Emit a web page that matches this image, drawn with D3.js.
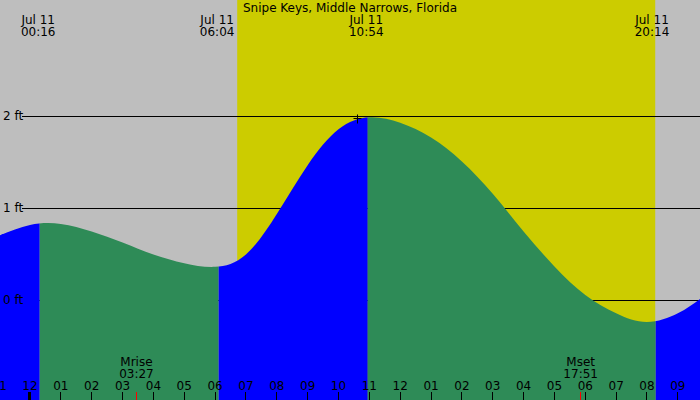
<!DOCTYPE html>
<html>
<head>
<meta charset="utf-8">
<script src="https://cdn.jsdelivr.net/npm/d3@7"></script>
<style>
  body { margin: 0; background: #fff; }
  text { font-family: "DejaVu Sans", sans-serif; font-size: 12px; fill: #000; }
</style>
</head>
<body>
<div id="chart"></div>
<script>
var svgWidth = 700;
var svgHeight = 400;

var title = "Snipe Keys, Middle Narrows, Florida";

// hourly tide heights (ft)
var tideTimes = ["2024-07-10 23:00", "2024-07-11 00:00", "2024-07-11 01:00", "2024-07-11 02:00",
  "2024-07-11 03:00", "2024-07-11 04:00", "2024-07-11 05:00", "2024-07-11 06:00",
  "2024-07-11 07:00", "2024-07-11 08:00", "2024-07-11 09:00", "2024-07-11 10:00",
  "2024-07-11 11:00", "2024-07-11 12:00", "2024-07-11 13:00", "2024-07-11 14:00",
  "2024-07-11 15:00", "2024-07-11 16:00", "2024-07-11 17:00", "2024-07-11 18:00",
  "2024-07-11 19:00", "2024-07-11 20:00", "2024-07-11 21:00", "2024-07-11 21:44"];
var tideHeights = [0.695, 0.81, 0.822, 0.74, 0.62, 0.49, 0.395, 0.355,
  0.49, 0.93, 1.46, 1.85, 1.98, 1.92, 1.76, 1.50,
  1.15, 0.74, 0.36, 0.05, -0.15, -0.245, -0.15, 0.01];

// high / low tides
var extremeTimes = ["2024-07-11 00:16", "2024-07-11 06:04", "2024-07-11 10:54", "2024-07-11 20:14"];
var extremeLabels = ["00:16", "06:04", "10:54", "20:14"];

var sunrise = "2024-07-11 06:43";
var sunset = "2024-07-11 20:16";

var moonEvents = [
  {name: "Mrise", time: "2024-07-11 03:27", label: "03:27"},
  {name: "Mset", time: "2024-07-11 17:51", label: "17:51"}
];

var levelTicks = [0, 1, 2];
var markTime = "2024-07-11 10:36";
var markHeight = 1.97;

var parse = d3.timeParse("%Y-%m-%d %H:%M");
var parseS = d3.timeParse("%Y-%m-%d %H:%M:%S");

var tide = tideTimes.map((t, i) => ({t: parse(t), h: tideHeights[i]}));

var x = d3.scaleTime()
  .domain([parseS("2024-07-10 23:01:40"), parseS("2024-07-11 21:43:05")])
  .range([0, svgWidth]);
var y = d3.scaleLinear().domain([0, 2]).range([299.5, 115.5]);

var svg = d3.select("#chart").append("svg")
  .attr("width", svgWidth)
  .attr("height", svgHeight);

// night / day background
svg.append("rect").attr("width", svgWidth).attr("height", svgHeight).attr("fill", "#bebebe");
svg.append("rect")
  .attr("x", x(parse(sunrise)))
  .attr("width", x(parse(sunset)) - x(parse(sunrise)))
  .attr("height", svgHeight)
  .attr("fill", "#cccc00");

// level lines go behind the water
svg.selectAll(".level").data(levelTicks).enter().append("line")
  .attr("x1", 22).attr("x2", svgWidth)
  .attr("y1", d => Math.round(y(d)) + 0.5).attr("y2", d => Math.round(y(d)) + 0.5)
  .attr("stroke", "#000");

// water area: blue rising, green falling
var area = d3.area()
  .x(d => x(d.t))
  .y0(svgHeight)
  .y1(d => y(d.h))
  .curve(d3.curveNatural);

svg.append("clipPath").attr("id", "water")
  .append("path").attr("d", area(tide));

var bounds = [x.domain()[0]].concat(extremeTimes.map(parse), [x.domain()[1]]);
var rising = true;
var waterGroup = svg.append("g").attr("clip-path", "url(#water)");
waterGroup.append("rect").attr("width", 3).attr("height", svgHeight).attr("fill", "#0000ff");
for (var i = 0; i < bounds.length - 1; i++) {
  waterGroup.append("rect")
    .attr("x", x(bounds[i]) + 1.5)
    .attr("width", x(bounds[i + 1]) - x(bounds[i]))
    .attr("height", svgHeight)
    .attr("fill", rising ? "#0000ff" : "#2e8b57");
  rising = !rising;
}

// level labels
svg.selectAll(".lvl").data(levelTicks).enter().append("text")
  .attr("x", 3)
  .attr("y", d => y(d) + 4)
  .text(d => d + " ft");

// marker
var mx = Math.round(x(parse(markTime))) + 0.5, my = Math.round(y(markHeight)) + 0.5;
svg.append("path")
  .attr("d", `M${mx - 4},${my}H${mx + 4}M${mx},${my - 4}V${my + 5}`)
  .attr("stroke", "#000");

// title and tide times
svg.append("text").attr("x", 350).attr("y", 12).attr("text-anchor", "middle").text(title);

var tideLabels = svg.selectAll(".ext").data(extremeTimes).enter().append("g");
tideLabels.append("text")
  .attr("x", d => Math.min(x(parse(d)), 652)).attr("y", 24).attr("text-anchor", "middle")
  .text("Jul 11");
tideLabels.append("text")
  .attr("x", d => Math.min(x(parse(d)), 652)).attr("y", 36).attr("text-anchor", "middle")
  .text((d, i) => extremeLabels[i]);

// hour axis
var hours = d3.timeHour.range(parse("2024-07-10 23:00"), x.domain()[1]);
var fmt = d3.timeFormat("%I");
svg.selectAll(".hl").data(hours).enter().append("text")
  .attr("x", d => x(d)).attr("y", 390).attr("text-anchor", "middle")
  .text(d => fmt(d));
svg.selectAll(".ht").data(hours.filter(d => x(d) >= 0)).enter().append("line")
  .attr("x1", d => Math.floor(x(d)) + 0.5).attr("x2", d => Math.floor(x(d)) + 0.5)
  .attr("y1", 392).attr("y2", svgHeight)
  .attr("stroke", "#000")
  .attr("stroke-width", d => d.getHours() === 0 ? 3 : 1);

// moon rise / set
svg.selectAll(".mt").data(moonEvents).enter().append("line")
  .attr("x1", d => Math.floor(x(parse(d.time))) + 0.5).attr("x2", d => Math.floor(x(parse(d.time))) + 0.5)
  .attr("y1", 392).attr("y2", svgHeight)
  .attr("stroke", "#ff0000");
svg.selectAll(".mn").data(moonEvents).enter().append("text")
  .attr("x", d => x(parse(d.time))).attr("y", 366).attr("text-anchor", "middle")
  .text(d => d.name);
svg.selectAll(".ml").data(moonEvents).enter().append("text")
  .attr("x", d => x(parse(d.time))).attr("y", 378).attr("text-anchor", "middle")
  .text(d => d.label);
</script>
</body>
</html>
